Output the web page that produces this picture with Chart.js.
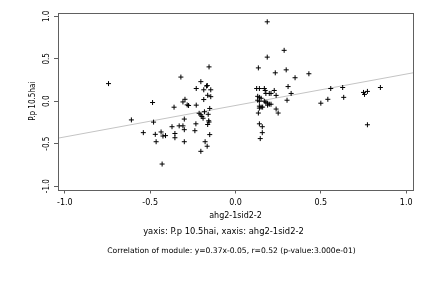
<!DOCTYPE html>
<html>
<head>
<meta charset="utf-8">
<script src="https://cdn.jsdelivr.net/npm/chart.js@4/dist/chart.umd.min.js"></script>
<style>
  html, body { margin: 0; padding: 0; background: #fff; }
</style>
</head>
<body>
<canvas id="myChart" width="432" height="288"></canvas>
<script>
// points (x = ahg2-1sid2-2, y = P.p 10.5hai)
const xValues = [
  -0.744, -0.61, -0.54, -0.486, -0.48, -0.47, -0.465, -0.436, -0.425, -0.41,
  -0.43, -0.372, -0.36, -0.355, -0.355, -0.33, -0.32, -0.308, -0.30, -0.308,
  -0.296, -0.30, -0.30, -0.283, -0.275, -0.23, -0.232, -0.238, -0.23, -0.203,
  -0.186, -0.17, -0.165, -0.155, -0.145, -0.186, -0.163, -0.145, -0.213, -0.203,
  -0.197, -0.19, -0.182, -0.151, -0.16, -0.163, -0.155, -0.151, -0.178, -0.166,
  -0.203, -0.157,
  0.186, 0.285, 0.186, 0.134, 0.233, 0.297, 0.43, 0.349, 0.308, 0.326,
  0.238, 0.227, 0.302, 0.124, 0.14, 0.169, 0.174, 0.178, 0.198, 0.208,
  0.13, 0.14, 0.15, 0.13, 0.14, 0.169, 0.178, 0.188, 0.188, 0.198,
  0.208, 0.14, 0.14, 0.15, 0.159, 0.134, 0.238, 0.25, 0.14, 0.157,
  0.157, 0.145, 0.5, 0.541, 0.558, 0.628, 0.634, 0.75, 0.756, 0.773,
  0.849, 0.773
];
const yValues = [
  0.208, -0.22, -0.37, -0.015, -0.246, -0.39, -0.477, -0.362, -0.41, -0.405,
  -0.74, -0.30, -0.07, -0.38, -0.43, -0.29, 0.285, -0.29, -0.335, -0.008,
  0.023, -0.21, -0.477, -0.043, -0.05, 0.15, -0.266, -0.347, -0.046, 0.231,
  0.135, 0.18, 0.185, 0.405, 0.135, 0.02, 0.07, 0.054, -0.142, -0.16,
  -0.18, -0.2, -0.124, -0.085, -0.154, -0.274, -0.245, -0.393, -0.477, -0.53,
  -0.59, -0.23,
  0.936, 0.60, 0.52, 0.393, 0.335, 0.37, 0.324, 0.277, 0.173, 0.092,
  0.069, 0.127, 0.012, 0.15, 0.15, 0.15, 0.127, 0.092, 0.092, 0.092,
  0.058, 0.046, 0.035, 0.012, 0.0, 0.0, -0.012, -0.023, -0.046, -0.035,
  -0.035, -0.058, -0.081, -0.069, -0.069, -0.139, -0.092, -0.139, -0.266, -0.30,
  -0.37, -0.44, -0.023, 0.023, 0.15, 0.162, 0.046, 0.104, 0.081, 0.116,
  0.162, -0.277
];
// regression line end points (y = 0.37x - 0.05 at the plot edges)
const fitX = [-1.04, 1.04];
const fitY = [-0.435, 0.335];
const xTicks = [-1.0, -0.5, 0.0, 0.5, 1.0];
const yTicks = [-1.0, -0.5, 0.0, 0.5, 1.0];

const xLabel = 'ahg2-1sid2-2';
const yLabel = 'P.p 10.5hai';
const subLine = 'yaxis: P.p 10.5hai, xaxis: ahg2-1sid2-2';
const corrLine = 'Correlation of module: y=0.37x-0.05, r=0.52 (p-value:3.000e-01)';

const font = { family: "'DejaVu Sans', sans-serif", size: 8 };
const narrowFont = { family: "'Liberation Sans Narrow', 'DejaVu Sans Condensed', sans-serif", size: 8 };
const axisColor = '#606060';

// R-style frame round the plot area plus the two caption lines under the x axis
const boxPlugin = {
  id: 'box',
  afterDraw(chart) {
    const { ctx, chartArea: a } = chart;
    ctx.save();
    ctx.strokeStyle = axisColor;
    ctx.lineWidth = 1;
    ctx.strokeRect(Math.round(a.left) + 0.5, Math.round(a.top) + 0.5,
      Math.round(a.right - a.left), Math.round(a.bottom - a.top));
    ctx.fillStyle = '#000';
    ctx.textAlign = 'center';
    ctx.textBaseline = 'middle';
    ctx.font = '8.4px ' + font.family;
    ctx.fillText(subLine, 223.5, 232);
    ctx.font = '7.6px ' + font.family;
    ctx.fillText(corrLine, 231.5, 251);
    ctx.restore();
  }
};

const points = xValues.map((x, i) => ({ x: x, y: yValues[i] }));
const fitLine = fitX.map((x, i) => ({ x: x, y: fitY[i] }));

let ctx = document.getElementById('myChart').getContext('2d');
let chartJS = new Chart(ctx, {
  type: 'scatter',
  data: {
    datasets: [{
      data: points,
      pointStyle: 'cross',
      pointRadius: 2.5,
      borderColor: '#000',
      borderWidth: 1,
      order: 1
    }, {
      data: fitLine,
      showLine: true,
      pointRadius: 0,
      borderColor: '#c4c4c4',
      borderWidth: 1,
      order: 2
    }]
  },
  options: {
    responsive: false,
    animation: false,
    devicePixelRatio: 1,
    layout: { padding: { left: 0, top: 13, right: 19, bottom: 67.5 } },
    scales: {
      x: {
        type: 'linear',
        min: -1.04,
        max: 1.04,
        afterBuildTicks: s => { s.ticks = xTicks.map(v => ({ value: v })); },
        afterFit: s => { s.height = 31; },
        grid: { drawOnChartArea: false, drawTicks: true, tickLength: 4, color: axisColor },
        border: { display: false },
        ticks: { font: font, color: '#000', padding: 5, maxRotation: 0, callback: v => v.toFixed(1) },
        title: { display: true, text: xLabel, font: font, color: '#000', padding: 0 }
      },
      y: {
        type: 'linear',
        min: -1.04,
        max: 1.04,
        afterBuildTicks: s => { s.ticks = yTicks.map(v => ({ value: v })); },
        afterFit: s => { s.width = 58; },
        grid: { drawOnChartArea: false, drawTicks: true, tickLength: 4, color: axisColor },
        border: { display: false },
        ticks: { font: narrowFont, color: '#000', padding: 0, minRotation: 90, maxRotation: 90, crossAlign: 'center', callback: v => v.toFixed(1) },
        title: { display: true, text: yLabel, font: narrowFont, color: '#000', padding: { top: 28, bottom: 0 } }
      }
    },
    plugins: {
      legend: { display: false },
      tooltip: { enabled: false }
    }
  },
  plugins: [boxPlugin]
});
</script>
</body>
</html>
